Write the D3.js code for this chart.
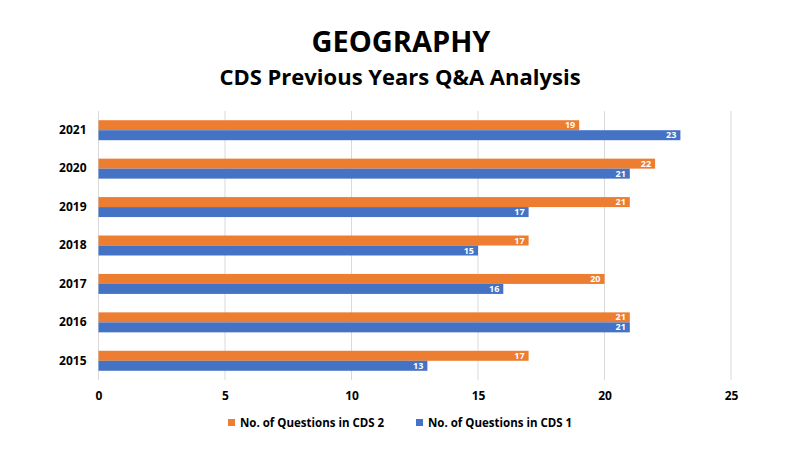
<!DOCTYPE html>
<html>
<head>
<meta charset="utf-8">
<script src="https://cdn.jsdelivr.net/npm/d3@7"></script>
<style>
  body { margin: 0; background: #fff; }
  text { font-family: "Open Sans", "Liberation Sans", sans-serif; }
</style>
</head>
<body>
<div id="chart"></div>
<script>
// data
var years = ["2021", "2020", "2019", "2018", "2017", "2016", "2015"];
var cds2 = [19, 22, 21, 17, 20, 21, 17];
var cds1 = [23, 21, 17, 15, 16, 21, 13];
var seriesNames = ["No. of Questions in CDS 2", "No. of Questions in CDS 1"];
var xTicks = [0, 5, 10, 15, 20, 25];

var width = 800, height = 450;
var margin = {top: 111, right: 69, bottom: 70, left: 98.5};
var plotW = width - margin.left - margin.right;
var plotH = height - margin.top - margin.bottom;
var colors = ["#ED7D31", "#4472C4"];

var svg = d3.select("#chart").append("svg")
  .attr("width", width)
  .attr("height", height);

svg.append("text")
  .attr("x", 401).attr("y", 52)
  .attr("text-anchor", "middle")
  .style("font-size", "29px").style("font-weight", "bold")
  .text("GEOGRAPHY");

svg.append("text")
  .attr("x", 400).attr("y", 85)
  .attr("text-anchor", "middle")
  .style("font-size", "22px").style("font-weight", "bold")
  .text("CDS Previous Years Q&A Analysis");

var g = svg.append("g")
  .attr("transform", "translate(" + margin.left + "," + margin.top + ")");

var x = d3.scaleLinear().domain([0, 25]).range([0, plotW]);
var y = d3.scaleBand().domain(years).range([0, plotH]).paddingInner(0.48).paddingOuter(0.24);
var sub = d3.scaleBand().domain([0, 1]).range([0, y.bandwidth()]);

// gridlines
g.append("g").selectAll("line")
  .data(xTicks)
  .enter().append("line")
  .attr("x1", d => x(d)).attr("x2", d => x(d))
  .attr("y1", 0).attr("y2", plotH)
  .attr("stroke", "#d9d9d9").attr("stroke-width", 1);

var xAxis = g.append("g")
  .attr("transform", "translate(0," + plotH + ")")
  .call(d3.axisBottom(x).tickValues(xTicks).tickSize(0).tickPadding(11));
xAxis.select(".domain").remove();
xAxis.selectAll("text").style("font-size", "12px").style("font-weight", "bold").attr("fill", "#000");

var yAxis = g.append("g")
  .call(d3.axisLeft(y).tickSize(0).tickPadding(12));
yAxis.select(".domain").remove();
yAxis.selectAll("text").style("font-size", "12px").style("font-weight", "bold").attr("fill", "#000");

[cds2, cds1].forEach(function(vals, s) {
  var grp = g.append("g");
  grp.selectAll("rect")
    .data(vals)
    .enter().append("rect")
    .attr("x", 0)
    .attr("y", (d, i) => y(years[i]) + sub(s))
    .attr("width", d => x(d))
    .attr("height", sub.bandwidth())
    .attr("fill", colors[s]);
  grp.selectAll("text")
    .data(vals)
    .enter().append("text")
    .attr("x", d => x(d) - 4)
    .attr("y", (d, i) => y(years[i]) + sub(s) + sub.bandwidth() / 2)
    .attr("dy", "0.34em")
    .attr("text-anchor", "end")
    .attr("fill", "#fff")
    .style("font-size", "9px")
    .style("font-weight", "bold")
    .text(d => d);
});

// legend
var legendX = [228, 416];
var legend = svg.append("g");
seriesNames.forEach(function(name, i) {
  legend.append("rect")
    .attr("x", legendX[i]).attr("y", 419)
    .attr("width", 7).attr("height", 7)
    .attr("fill", colors[i]);
  legend.append("text")
    .attr("x", legendX[i] + 12).attr("y", 423)
    .attr("dy", "0.36em")
    .style("font-size", "11.5px").style("font-weight", "bold")
    .text(name);
});
</script>
</body>
</html>
